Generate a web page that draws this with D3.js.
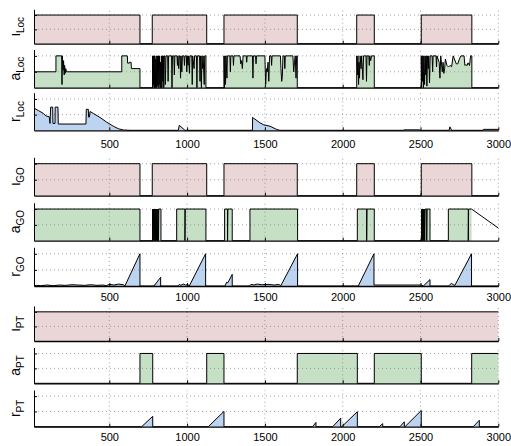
<!DOCTYPE html>
<html>
<head>
<meta charset="utf-8">
<script src="https://cdn.jsdelivr.net/npm/d3@7"></script>
<style>
  body { margin: 0; background: #fff; }
  text { font-family: "Liberation Sans", Arial, sans-serif; }
</style>
</head>
<body>
<div id="chart"></div>
<script>

//~~~~~~~~~~~~~~~~~~DATA (time, value)

let xTicks = [500, 1000, 1500, 2000, 2500, 3000];
let yTicks = [0.5, 1];

let iotaLoc = [[16,1],[697,1],[697,0],[776,0],[776,1],[1126,1],[1126,0],[1237,0],[1237,1],[1708,1],[1708,0],
  [2090,0],[2090,1],[2203,1],[2203,0],[2505,0],[2505,1],[2830,1],[2830,0],[3000,0]];

let aLoc = [[16,0.5],[157,0.5],[157,1],[194,1],[196,0.1],[198,1],[203,0.55],[206,0.85],[210,0.4],[213,0.7],
  [216,0.45],[220,0.6],[225,0.5],[580,0.5],[580,1],[616,1],[618,0.77],[628,0.77],[630,0.8],[640,0.8],
  [642,0.6],[697,0.6],[697,0],
  [778,0],[778,1],[780,0],[783,1],[785,0.1],[788,1],[790,0],[793,1],[796,0],[799,0.9],[802,0],[805,1],
  [808,0.05],[811,1],[814,0],[817,1],[820,0.1],[823,1],[826,0],[829,0.8],[832,0],[835,1],[838,0],[841,1],
  [844,0.2],[847,1],[850,0],[853,1],[857,1],[860,0.1],[864,1],[875,1],[878,0.2],[881,1],[900,1],[903,0],
  [906,1],[915,1],[918,0.4],[921,1],[935,1],[938,0.7],[941,1],[946,0.6],[950,1],[955,1],[958,0.3],[961,1],
  [966,0.5],[970,1],[980,1],[983,0.7],[986,1],[995,1],[998,0.5],[1001,1],[1006,0.7],[1010,1],[1015,0.45],
  [1018,1],[1030,1],[1033,0.1],[1036,1],[1045,0.6],[1048,1],[1060,1],[1063,0],[1066,1],[1080,1],[1083,0.2],
  [1086,1],[1092,0],[1095,1],[1100,0.6],[1103,1],[1110,0.1],[1113,1],[1121,1],[1121,0],
  [1237,0],[1237,1],[1240,0],[1243,1],[1247,0.1],[1250,1],[1256,0.3],[1259,1],[1275,1],[1278,0.5],[1281,1],
  [1295,1],[1298,0.7],[1301,1],[1340,1],[1345,0.75],[1350,0.85],[1355,0.6],[1360,1],[1380,1],[1383,0.8],
  [1386,1],[1420,1],[1423,0.3],[1426,1],[1440,1],[1443,0.75],[1446,1],[1500,1],[1505,0.1],[1510,0.6],
  [1515,0.5],[1520,0.8],[1525,0.2],[1530,1],[1540,1],[1543,0.7],[1546,1],[1600,1],[1603,0.6],[1608,0.2],
  [1612,0.35],[1616,1],[1625,1],[1628,0.6],[1631,1],[1680,1],[1685,0.5],[1690,0.8],[1695,1],[1700,0.3],
  [1704,1],[1708,1],[1708,0],
  [2090,0],[2090,1],[2095,0.4],[2098,1],[2102,0.1],[2105,0.8],[2108,0.3],[2112,1],[2118,0.6],[2122,1],
  [2130,0.25],[2134,1],[2150,1],[2153,0.2],[2156,1],[2168,1],[2171,0.7],[2174,1],[2180,0.85],[2185,1],
  [2203,1],[2203,0],
  [2505,0],[2505,1],[2507,0],[2510,1],[2513,0.2],[2516,1],[2519,0],[2522,1],[2526,0.1],[2530,1],[2534,0.4],
  [2537,1],[2541,0.05],[2545,1],[2550,0.6],[2553,1],[2558,0.15],[2562,1],[2575,1],[2578,0.5],[2581,1],
  [2600,1],[2603,0.65],[2606,1],[2620,0.8],[2625,0.3],[2630,1],[2640,0.5],[2645,0.8],[2650,0.45],[2655,0.6],
  [2660,0.9],[2670,0.7],[2680,0.65],[2690,0.7],[2700,0.66],[2710,1],[2730,0.75],[2740,0.75],[2750,0.9],
  [2760,1],[2780,1],[2785,0.7],[2790,0.72],[2800,0.7],[2805,0.78],[2815,0.7],[2822,1],[2830,1],[2830,0],
  [3000,0]];

let rLoc = [[16,0.71],[44,0.63],[76,0.54],[93,0.46],[114,0.43],[119,0.22],[123,0.74],[136,0.74],[138,0.22],
  [151,0.22],[152,0.74],[170,0.74],[172,0.2],[350,0.2],[352,0.67],[365,0.67],[367,0.42],[372,0.42],
  [376,0.6],[397,0.54],[440,0.41],[483,0.26],[526,0.13],[558,0.05],[590,0.01],[633,0],
  [943,0],[950,0.16],[986,0],[1420,0],[1421,0.41],[1468,0.24],[1490,0.18],[1533,0.13],[1575,0.03],[1597,0],
  [2390,0],[2392,0.015],[2495,0.015],[2500,0],[2684,0],[2689,0.11],[2700,0],[2902,0],[2904,0.03],[3000,0.03]];

let iotaGO = [[16,1],[697,1],[697,0],[776,0],[776,1],[1126,1],[1126,0],[1237,0],[1237,1],[1708,1],[1708,0],
  [2090,0],[2090,1],[2203,1],[2203,0],[2505,0],[2505,1],[2830,1],[2830,0],[3000,0]];

let aGO = [[16,1],[697,1],[697,0],[778,0],[778,1],[780,0],[783,1],[786,0],[789,1],[792,0],[795,1],[798,0],
  [801,1],[804,0],[807,1],[810,0],[813,1],[816,0],[818,1],[832,1],[832,0],[933,0],[933,1],[986,1],[986,0],
  [988,1],[1121,1],[1121,0],[1241,0],[1241,1],[1260,1],[1260,0],[1262,1],[1290,1],[1290,0],[1404,0],
  [1404,1],[1710,1],[1710,0],[2094,0],[2094,1],[2154,1],[2154,0],[2156,1],[2203,1],[2203,0],[2507,0],
  [2507,1],[2509,0],[2512,1],[2515,0],[2518,1],[2521,0],[2524,1],[2527,0],[2530,1],[2540,1],[2540,0],
  [2542,1],[2561,1],[2561,0],[2679,0],[2679,1],[2807,1],[2807,0],[2809,1],[2828,1]];

// the unfilled ramp at the end of a_GO
let aGOTail = [[2828,1],[3000,0.4]];

let rGO = [[16,0],[30,0.02],[60,0.01],[100,0.03],[140,0.01],[180,0.03],[220,0.02],[260,0.04],[300,0.03],
  [340,0.02],[380,0.04],[420,0.02],[460,0.03],[480,0.01],[500,0.05],[530,0.03],[560,0.06],[590,0.04],
  [600,0],[697,1],[697,0],[787,0],[830,0.27],[830,0],[940,0],[950,0.05],[960,0.02],[975,0.06],[990,0.03],
  [1005,0.05],[1014,0],[1119,1],[1119,0],[1243,0],[1255,0.12],[1262,0.1],[1290,0.36],[1290,0],[1400,0],
  [1410,0.05],[1430,0.03],[1450,0.06],[1480,0.04],[1520,0.05],[1560,0.03],[1590,0.05],[1601,0],[1710,1],
  [1710,0],[2100,0],[2201,1],[2201,0.03],[2505,0.03],[2518,0],[2561,0.2],[2561,0],[2680,0],[2690,0.05],
  [2700,0.08],[2710,0.04],[2721,0.02],[2828,1],[2828,0],[3000,0]];

let iotaPT = [[16,1],[3000,1]];

let aPT = [[16,0],[697,0],[697,1],[779,1],[779,0],[1126,0],[1126,1],[1237,1],[1237,0],[1708,0],[1708,1],
  [2094,1],[2094,0],[2203,0],[2203,1],[2505,1],[2505,0],[2829,0],[2829,1],[3000,1]];

let rPT = [[16,0],[708,0],[779,0.34],[779,0],[1136,0],[1237,0.5],[1237,0],[1807,0],[1828,0.14],[1828,0],
  [1936,0],[1987,0.28],[1987,0],[1994,0],[2094,0.49],[2094,0],[2235,0],[2257,0.1],[2257,0],[2368,0],
  [2396,0.16],[2396,0],[2400,0],[2505,0.53],[2505,0],[2839,0],[2878,0.21],[2878,0],[3000,0]];

//~~~~~~~~~~~~~~~~~~VARIABLES

let width = 511;
let height = 446;

let pink = '#ead6d6';
let green = '#c6e0c6';
let blue = '#bdd4f0';

//one entry per axes: top/bottom are the pixel rows of y = 1.2 and y = 0
let panels = [
  { name: 'ι', sub: 'Loc', data: iotaLoc, fill: pink,  top: 9.3,   bottom: 43.7 },
  { name: 'a', sub: 'Loc', data: aLoc,    fill: green, top: 49.5,  bottom: 87.7 },
  { name: 'r', sub: 'Loc', data: rLoc,    fill: blue,  top: 92.7,  bottom: 130.3, labels: 9.4 },
  { name: 'ι', sub: 'GO',  data: iotaGO,  fill: pink,  top: 157.3, bottom: 195.7 },
  { name: 'a', sub: 'GO',  data: aGO,     fill: green, top: 202.7, bottom: 240.7, tail: aGOTail },
  { name: 'r', sub: 'GO',  data: rGO,     fill: blue,  top: 247.3, bottom: 286, labels: 6.7 },
  { name: 'ι', sub: 'PT',  data: iotaPT,  fill: pink,  top: 306,   bottom: 341 },
  { name: 'a', sub: 'PT',  data: aPT,     fill: green, top: 347.5, bottom: 383.3 },
  { name: 'r', sub: 'PT',  data: rPT,     fill: blue,  top: 390,   bottom: 426.7, labels: 6.4 }
];

let svg = d3.select('#chart')
  .append('svg')
  .attr('width', width)
  .attr('height', height);

let x = d3.scaleLinear().domain([16, 3000]).range([34, 498.3]);

//~~~~~~~~~~~~~~~~~~PANELS

panels.forEach(function(p) {
  let y = d3.scaleLinear().domain([0, 1.2]).range([p.bottom, p.top]);
  let g = svg.append('g');

  let area = d3.area()
    .x(function(d) { return x(d[0]); })
    .y0(y(0))
    .y1(function(d) { return y(d[1]); });

  let line = d3.line()
    .x(function(d) { return x(d[0]); })
    .y(function(d) { return y(d[1]); });

  //filled region under the signal
  g.append('path')
    .datum(p.data)
    .attr('d', area)
    .attr('fill', p.fill);

  //dotted grid
  g.selectAll('.vgrid')
    .data(xTicks)
    .enter()
    .append('line')
    .attr('x1', function(d) { return x(d); })
    .attr('x2', function(d) { return x(d); })
    .attr('y1', y(0))
    .attr('y2', y(1.2))
    .attr('stroke', '#8a8a8a')
    .attr('stroke-width', 0.8)
    .attr('stroke-dasharray', '1,3');

  g.selectAll('.hgrid')
    .data(yTicks)
    .enter()
    .append('line')
    .attr('x1', x(16))
    .attr('x2', x(3000))
    .attr('y1', function(d) { return y(d); })
    .attr('y2', function(d) { return y(d); })
    .attr('stroke', '#8a8a8a')
    .attr('stroke-width', 0.8)
    .attr('stroke-dasharray', '1,3');

  //signal outline
  g.append('path')
    .datum(p.data)
    .attr('d', line)
    .attr('fill', 'none')
    .attr('stroke', '#000')
    .attr('stroke-width', 1);

  if (p.tail) {
    g.append('path')
      .datum(p.tail)
      .attr('d', line)
      .attr('fill', 'none')
      .attr('stroke', '#000')
      .attr('stroke-width', 1);
  }

  //axes with inward ticks
  let xAxis = d3.axisBottom(x)
    .tickValues(xTicks)
    .tickSize(-3)
    .tickSizeOuter(0)
    .tickPadding(p.labels || 0)
    .tickFormat(p.labels ? d3.format('d') : '');

  let ax = g.append('g')
    .attr('transform', 'translate(0,' + y(0) + ')')
    .call(xAxis);
  ax.select('.domain').attr('stroke-width', 1.3);
  ax.selectAll('text').attr('font-size', 11).attr('fill', '#000')
    .attr('font-family', '"Liberation Sans", Arial, sans-serif');

  let yAxis = d3.axisLeft(y)
    .tickValues(yTicks)
    .tickSize(-3)
    .tickSizeOuter(0)
    .tickFormat('');

  g.append('g')
    .attr('transform', 'translate(' + x(16) + ',0)')
    .call(yAxis);

  //rotated label with subscript
  let label = g.append('text')
    .attr('transform', 'translate(19.5,' + ((p.top + p.bottom) / 2) + ') rotate(-90)')
    .attr('text-anchor', 'middle')
    .attr('fill', '#000');
  label.append('tspan').attr('font-size', 14).text(p.name);
  label.append('tspan').attr('font-size', 10).attr('dy', 4).text(p.sub);
});

</script>
</body>
</html>
